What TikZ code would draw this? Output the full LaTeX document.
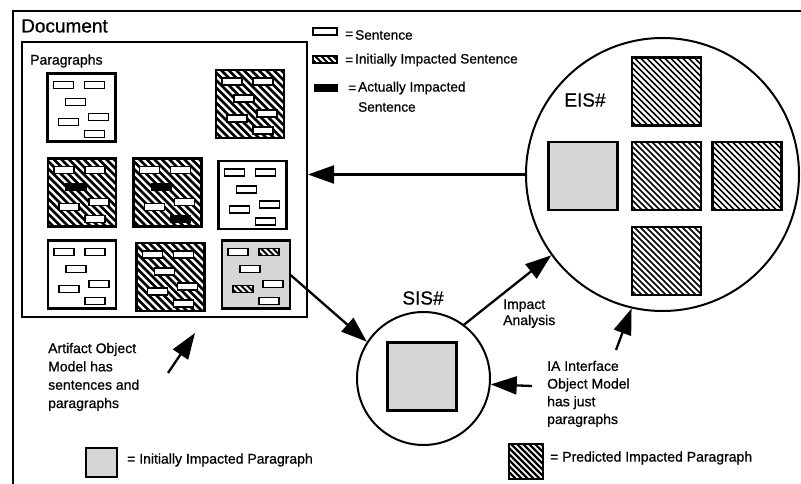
\documentclass[tikz,border=0pt]{standalone}
\usepackage{fontspec}
\setmainfont{Liberation Sans}[FakeBold=0.7]
\usetikzlibrary{arrows.meta}
\tikzset{
  x=1pt, y=-1pt,
  hatch/.style n args={2}{path picture={
    \foreach \k in {-100,#1,...,100}
      \draw[line width=#2] ([xshift=\k pt]path picture bounding box.north west) -- ++(110pt,-110pt);}},
  dotfill/.style={fill=black!16},
  para/.style={draw, line width=2.4pt, fill=white, minimum width=68pt, minimum height=68pt, inner sep=0pt, outer sep=0pt},
  bigsq/.style={draw, line width=2.2pt, fill=white, minimum width=69pt, minimum height=68pt, inner sep=0pt, outer sep=0pt},
  sW/.style={draw, line width=1.8pt, fill=white},
  sI/.style={draw, line width=1.8pt, fill=white, hatch={-94}{2pt}},
  sAx/.style={draw, line width=1.8pt, fill=black},
  ring/.style={draw, circle, line width=2pt, inner sep=0pt},
  arr/.style={line width=2.3pt, -{Triangle[length=26pt,width=18pt]}},
  lbl/.style={inner sep=0pt, anchor=west, font=\fontsize{14}{17}\selectfont},
  lgd/.style={inner sep=0pt, anchor=west, font=\fontsize{13.6}{16}\selectfont},
  big/.style={inner sep=0pt, font=\fontsize{19}{22}\selectfont},
}
\newcommand\sentset[7]{%
  \begin{scope}[shift={(#1.north west)}]
    \path[#2] (6,8) rectangle ++(20,7);
    \path[#3] (37,8) rectangle ++(20,7);
    \path[#4] (18,25) rectangle ++(20,7);
    \path[#5] (11,45) rectangle ++(20,7);
    \path[#6] (41,40) rectangle ++(20,7);
    \path[#7] (37,57) rectangle ++(20,7);
  \end{scope}}
\begin{document}
\begin{tikzpicture}
\useasboundingbox (0,0) rectangle (801,484);
% outer document frame (cut by the page edges)
\draw[line width=2pt] (801,11) -- (12.5,11) -- (12.5,484);
\node[big, anchor=west] (doclbl) at (21,26) {Document};
% inner paragraphs frame
\node[draw, line width=2pt, minimum width=285pt, minimum height=275pt, inner sep=0pt] (docbox) at (164.5,179.5) {};
\node[lbl] (paralbl) at (30,61) {Paragraphs};
% paragraphs
\node[para] (P1) at (81.5,107.5) {};
\node[para, hatch={-92.5}{2.6pt}] (P2) at (250,104) {};
\node[para, hatch={-92.5}{2.6pt}] (PA) at (82,192.5) {};
\node[para, hatch={-92.5}{2.6pt}] (PB) at (167.5,192.5) {};
\node[para] (PC) at (252.5,195) {};
\node[para] (PD) at (82,274.5) {};
\node[para, hatch={-92.5}{2.6pt}] (PE) at (170.5,277) {};
\node[para, dotfill] (PF) at (256,274.5) {};
\sentset{P1}{sW}{sW}{sW}{sW}{sW}{sW}
\sentset{P2}{sW}{sW}{sW}{sW}{sW}{sW}
\sentset{PA}{sW}{sW}{sAx}{sW}{sW}{sW}
\sentset{PB}{sW}{sW}{sAx}{sW}{sW}{sAx}
\sentset{PC}{sW}{sW}{sW}{sW}{sW}{sW}
\sentset{PD}{sW}{sW}{sW}{sW}{sW}{sW}
\sentset{PE}{sW}{sW}{sW}{sW}{sW}{sW}
\sentset{PF}{sW}{sI}{sW}{sI}{sW}{sW}
% legend top
\path[sW] (313,28) rectangle (337,35);
\node[lgd] (eq1) at (345,35) {=};
\node[lgd] (lg1) at (355,35) {Sentence};
\path[sI] (313,56) rectangle (337,63);
\node[lgd] (eq2) at (345,61) {=};
\node[lgd] (lg2) at (355,60) {Initially Impacted Sentence};
\path[sAx] (315,85) rectangle (337,91);
\node[lgd] (eq3) at (348,89) {=};
\node[lgd] (lg3) at (358,88) {Actually Impacted};
\node[lgd] (lg3b) at (358,107) {Sentence};
% EIS
\node[ring, minimum size=273pt] (EIS) at (662.5,174.5) {};
\node[big] (eislbl) at (585,100) {EIS\#};
\node[bigsq, hatch={-94}{1.7pt}] (E1) at (666.5,91.5) {};
\node[bigsq, dotfill] (E2) at (583,176) {};
\node[bigsq, hatch={-94}{1.7pt}] (E3) at (666.5,176) {};
\node[bigsq, hatch={-94}{1.7pt}] (E4) at (747,176) {};
\node[bigsq, hatch={-94}{1.7pt}] (E5) at (666.5,261) {};
% SIS
\node[ring, minimum size=133pt] (SIS) at (423.5,378.5) {};
\node[big] (sislbl) at (423,298) {SIS\#};
\node[bigsq, dotfill] (S1) at (422,376.5) {};
% labels (base = baseline of the last line)
\node[lbl, anchor=base west, align=left, font=\fontsize{14}{16}\selectfont] (impact) at (503,325) {Impact\\Analysis};
\node[lbl, anchor=base west, align=left, font=\fontsize{14}{18.3}\selectfont] (aom) at (48,408) {Artifact Object\\Model has\\sentences and\\paragraphs};
\node[lbl, anchor=base west, align=left, font=\fontsize{14}{17.7}\selectfont] (iaom) at (547,424) {IA Interface\\Object Model\\has just\\paragraphs};
% arrows
\draw[arr] (EIS.west) -- (docbox.east |- EIS.west);
\draw[arr] (PF.east) -- (SIS.147);
\draw[arr] (SIS.53) -- (EIS.216);
\coordinate (iatail) at (532,386);
\draw[arr] (iatail) -- (SIS.-5);
\coordinate (iatail2) at (616,350);
\draw[arr] (iatail2) -- (EIS.257);
\coordinate (aotail) at (168,373);
\coordinate (aotip) at (195,333);
\draw[arr] (aotail) -- (aotip);
% bottom legend
\node[draw, line width=2.2pt, dotfill, minimum width=31pt, minimum height=29pt, inner sep=0pt] (lgP) at (101.5,462.5) {};
\node[lbl] (lgPt) at (127,460) {= Initially Impacted Paragraph};
\node[draw, line width=2.2pt, fill=white, hatch={-94}{2.4pt}, minimum width=34pt, minimum height=35pt, inner sep=0pt] (lgH) at (526,461.5) {};
\node[lbl] (lgHt) at (550,458) {= Predicted Impacted Paragraph};
\end{tikzpicture}
\end{document}
